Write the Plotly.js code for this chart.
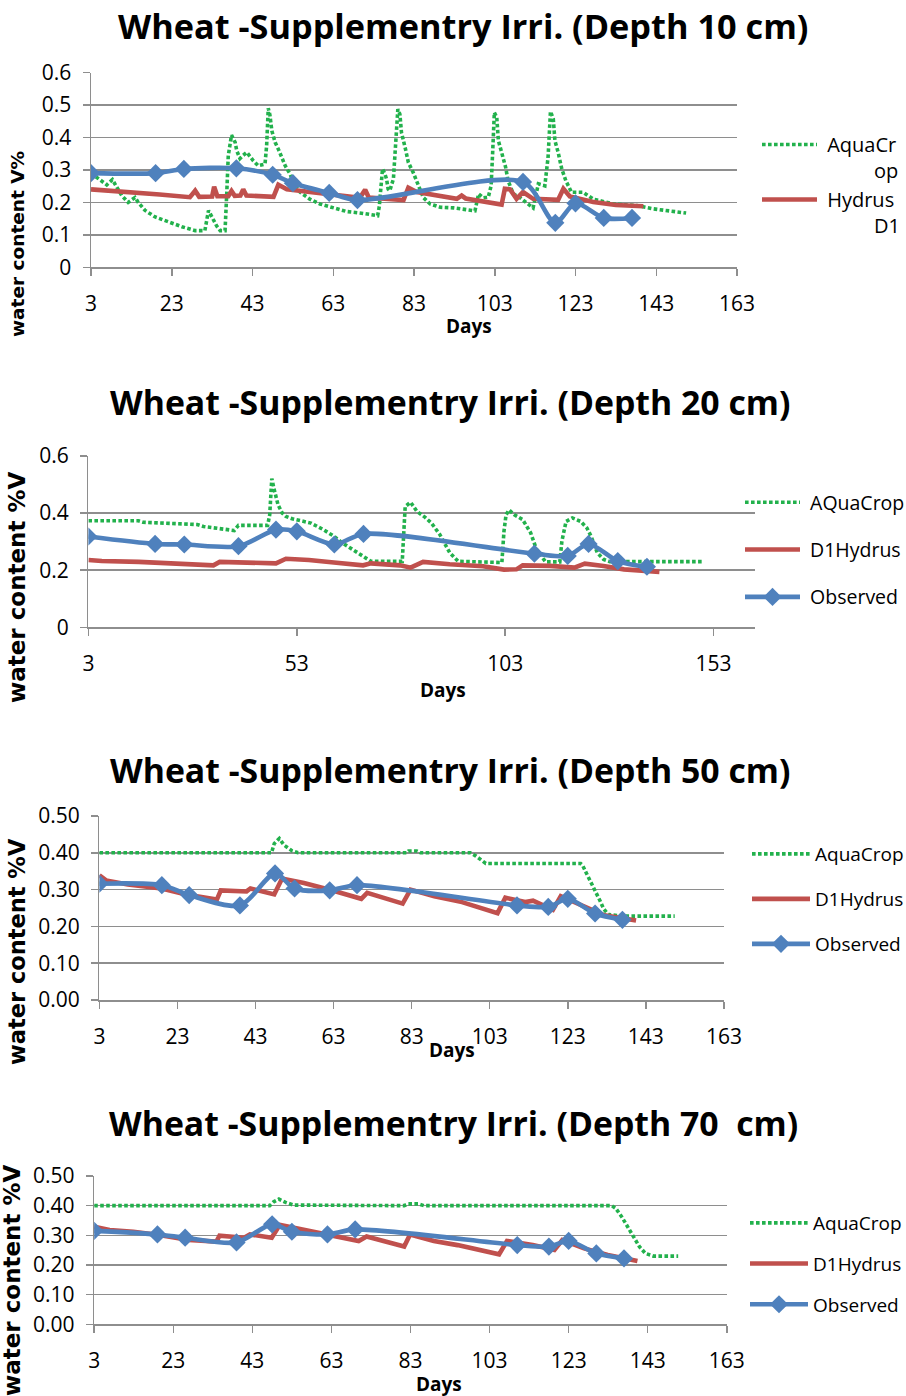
<!DOCTYPE html>
<html>
<head>
<meta charset="utf-8">
<script src="https://cdn.plot.ly/plotly-3.0.1.min.js"></script>
<style>html,body{margin:0;padding:0;background:#fff}#chart{width:906px;height:1396px}</style>
</head>
<body>
<div id="chart"></div>
<script>
// ---------- DATA ----------
const obsDays = [3,19,26,39,48,53,62,69,110,118,123,130,137];
const obs10 = [0.29,0.29,0.303,0.305,0.285,0.259,0.229,0.207,0.263,0.137,0.197,0.152,0.152];
const obs20 = [0.318,0.292,0.290,0.284,0.342,0.336,0.290,0.327,0.258,0.250,0.292,0.232,0.212];
const obs50 = [0.316,0.312,0.285,0.257,0.344,0.303,0.298,0.312,0.257,0.253,0.275,0.235,0.218];
const obs70 = [0.315,0.303,0.292,0.276,0.337,0.312,0.303,0.320,0.267,0.262,0.281,0.239,0.222];

const aqua10Days = [3,4.8,6.9,8.3,10.6,12.2,13.9,14.7,16.4,18.9,22.2,25.5,28.8,31.2,32.1,32.9,34.1,35,36.2,36.6,37,37.8,38.7,39.1,39.9,40.7,41.6,43.2,44.4,46.1,46.5,46.9,47.3,47.8,48.6,49.4,50.2,51.1,52.3,53.3,54.8,57.2,59.7,63,66.3,70.4,74,74.4,74.8,75.2,75.8,76.2,76.6,77,77.9,78.3,78.7,79,79.5,79.9,80.8,81.6,82.8,83.7,85.3,87,89.5,92.8,98.1,99,100.2,101.4,102.1,102.5,102.8,102.9,103.5,103.9,104.7,105.7,106.3,107.6,109.2,110.9,112.5,113.8,115.4,116.2,116.5,116.8,117.5,117.9,118.7,119.6,120.6,122,124.9,127.4,132.4,138.2,142.3,148,150.4];
const aqua10 = [0.29,0.272,0.254,0.27,0.221,0.2,0.215,0.2,0.175,0.155,0.139,0.125,0.113,0.113,0.175,0.155,0.128,0.113,0.113,0.221,0.344,0.407,0.385,0.359,0.335,0.345,0.354,0.328,0.313,0.318,0.375,0.49,0.47,0.42,0.385,0.364,0.338,0.313,0.287,0.257,0.231,0.21,0.195,0.183,0.172,0.166,0.159,0.187,0.244,0.303,0.287,0.272,0.241,0.236,0.272,0.338,0.421,0.487,0.472,0.415,0.369,0.323,0.292,0.262,0.215,0.195,0.185,0.183,0.174,0.226,0.214,0.216,0.251,0.359,0.441,0.477,0.462,0.39,0.354,0.308,0.267,0.226,0.215,0.2,0.183,0.257,0.251,0.338,0.441,0.48,0.457,0.39,0.354,0.303,0.267,0.231,0.231,0.21,0.195,0.19,0.18,0.169,0.167];

const hyd10Days = [3,10,20,27.5,28.8,29.8,33,33.5,34.3,37,37.8,38.6,40,40.7,41.5,48.2,49.4,51.5,62.2,69.6,70.9,71.8,80.4,81.6,83.7,93.6,94.8,95.8,104.7,105.5,106.8,108.4,110,112.5,118.7,120,121.6,127.4,133,139.8];
const hyd10 = [0.240,0.232,0.224,0.216,0.236,0.217,0.218,0.248,0.219,0.219,0.235,0.220,0.221,0.240,0.221,0.217,0.254,0.240,0.226,0.214,0.239,0.215,0.207,0.245,0.232,0.211,0.221,0.212,0.193,0.242,0.240,0.211,0.232,0.211,0.208,0.242,0.218,0.201,0.192,0.188];

const aqua20Days = [3,15,16.1,21.1,22.1,29.1,30.6,36,38,39,46,46.5,47,47.5,48,48.5,49.5,50.4,51.9,54.4,56.4,59.4,61.9,63.9,66.9,69.8,70.8,78.3,78.6,79,80.3,81.8,83.8,85.3,87.3,89.7,91.7,102.2,102.7,103.2,103.9,105.2,107.2,109.1,110.5,112.7,116.1,116.6,117.6,119.1,121.1,122.6,123.6,125.1,126.6,128.1,150.4];
const aqua20 = [0.373,0.373,0.368,0.365,0.362,0.36,0.353,0.342,0.339,0.357,0.357,0.394,0.521,0.487,0.458,0.429,0.40,0.388,0.38,0.373,0.365,0.342,0.319,0.296,0.267,0.238,0.231,0.231,0.302,0.423,0.438,0.406,0.385,0.365,0.325,0.261,0.231,0.227,0.336,0.394,0.411,0.394,0.377,0.331,0.273,0.229,0.229,0.302,0.371,0.383,0.371,0.348,0.319,0.261,0.238,0.23,0.23];

const hyd20Days = [3,6.2,15.1,25.1,33,34.5,42,48,50.4,55.9,61.9,68.9,70.8,77.8,80.3,83.3,89.7,97.7,102.7,105.7,107.2,113.7,119.6,122.1,126.6,131.5,140];
const hyd20 = [0.236,0.232,0.229,0.221,0.217,0.229,0.227,0.224,0.240,0.236,0.227,0.217,0.224,0.217,0.209,0.229,0.221,0.214,0.202,0.203,0.217,0.215,0.209,0.223,0.215,0.203,0.194];

const aqua50Days = [3,47.1,47.8,49.1,50.3,52.4,53.9,81.7,82.2,84.3,85.3,98,99.5,101,102,126.3,126.8,127.8,129.1,130.2,131.2,132.2,133.4,137.5,150.4];
const aqua50 = [0.40,0.40,0.425,0.439,0.421,0.405,0.40,0.40,0.405,0.405,0.40,0.40,0.391,0.378,0.371,0.371,0.366,0.344,0.318,0.294,0.271,0.248,0.232,0.228,0.228];

const hyd50Days = [3,4.7,10.3,18.9,26,33.1,34.1,40.7,41.7,47.8,49.8,55.4,62.5,70.1,71.6,80.7,82.7,88.8,95.9,105,107,112.1,114.1,119.2,121.2,126.3,132.4,140.5];
const hyd50 = [0.339,0.325,0.314,0.303,0.285,0.273,0.298,0.295,0.303,0.287,0.330,0.318,0.298,0.275,0.291,0.262,0.300,0.282,0.266,0.236,0.278,0.266,0.270,0.245,0.282,0.257,0.230,0.216];

const aqua70Days = [3,47.4,48.4,49.7,51.4,53.4,81.4,82.4,84.9,86.4,133.9,134.9,136.4,137.9,139.4,140.9,142.4,144.4,150.7];
const aqua70 = [0.40,0.40,0.413,0.422,0.411,0.402,0.40,0.406,0.406,0.40,0.40,0.391,0.363,0.329,0.296,0.262,0.239,0.23,0.23];

const hyd70Days = [3,6.9,12.9,19.4,26.9,33.9,34.7,40.9,42.4,47.9,49.9,55.9,62.9,69.9,71.9,81.4,82.9,88.9,94.9,105.4,107.4,113.9,119.4,121.4,126.9,132.9,140.4];
const hyd70 = [0.329,0.318,0.312,0.301,0.284,0.279,0.299,0.292,0.303,0.292,0.335,0.318,0.301,0.281,0.296,0.262,0.303,0.281,0.267,0.236,0.281,0.267,0.251,0.284,0.256,0.234,0.213];

const titles = ["Wheat -Supplementry Irri. (Depth 10 cm)","Wheat -Supplementry Irri. (Depth 20 cm)","Wheat -Supplementry Irri. (Depth 50 cm)","Wheat -Supplementry Irri. (Depth 70\u00a0 cm)"];
const yTitles = ["water content V%","water content %V","water content %V","water content %V"];
const xTitle = "Days";
const NB = n => '\u00a0'.repeat(n);
const legendNames = [
  [NB(1) + "AquaCr<br>" + NB(10) + "op", NB(1) + "Hydrus<br>" + NB(10) + "D1"],
  [NB(1) + "AQuaCrop", NB(1) + "D1Hydrus", NB(1) + "Observed"],
  ["AquaCrop", "D1Hydrus", "Observed"],
  ["AquaCrop", "D1Hydrus", "Observed"]
];

// ---------- STYLE ----------
const W = 906, H = 1396;
const GREEN = '#22b14c', RED = '#c0504d', BLUE = '#4f81bd', GRID = '#8e8e8e';
const FONT = 'Open Sans, DejaVu Sans, sans-serif';
const px = x => x / W, py = y => 1 - y / H;

// plot boxes in pixels: [xLeft(day3), xRight(day163), yTop, yBottom]
const boxes = [
  [91, 737, 72.5, 267.3],
  [88.4, 755.3, 456, 627.3],
  [99.4, 723.9, 816, 1000],
  [94.2, 726.8, 1176, 1324.3]
];
const yRanges = [[0,0.6],[0,0.6],[0,0.5],[0,0.5]];
const yDticks = [0.1,0.2,0.1,0.1];
const yFormats = ['', '', '.2f', '.2f'];
const xDticks = [20,50,20,20];

const traces = [];
function addSet(i, aDays, aVals, hDays, hVals, oVals) {
  const sfx = i === 0 ? '' : String(i + 1);
  const lg = 'legend' + (i === 0 ? '' : String(i + 1));
  const names = legendNames[i];
  traces.push({x: aDays, y: aVals, xaxis: 'x' + sfx, yaxis: 'y' + sfx, mode: 'lines', name: names[0], legend: lg, legendgroup: 'a' + i,
    line: {color: GREEN, width: 3.6, dash: '3.6px,2.4px'}, hoverinfo: 'skip'});
  traces.push({x: hDays, y: hVals, xaxis: 'x' + sfx, yaxis: 'y' + sfx, mode: 'lines', name: names[1], legend: lg, legendgroup: 'h' + i,
    line: {color: RED, width: 4.6}, hoverinfo: 'skip'});
  traces.push({x: obsDays, y: oVals, xaxis: 'x' + sfx, yaxis: 'y' + sfx, mode: 'lines+markers', name: names[2] || 'Observed', legend: lg, legendgroup: 'o' + i,
    showlegend: i !== 0,
    line: {color: BLUE, width: 4.6, shape: 'spline', smoothing: 0.8}, marker: {symbol: 'diamond', size: 14, color: BLUE}, hoverinfo: 'skip'});
}
addSet(0, aqua10Days, aqua10, hyd10Days, hyd10, obs10);
addSet(1, aqua20Days, aqua20, hyd20Days, hyd20, obs20);
addSet(2, aqua50Days, aqua50, hyd50Days, hyd50, obs50);
addSet(3, aqua70Days, aqua70, hyd70Days, hyd70, obs70);

const layout = {
  width: W, height: H, margin: {l: 0, r: 0, t: 0, b: 0, autoexpand: false},
  paper_bgcolor: '#fff', plot_bgcolor: '#fff',
  font: {family: FONT, color: '#000', size: 20},
  annotations: [], showlegend: true
};
boxes.forEach((b, i) => {
  const sfx = i === 0 ? '' : String(i + 1);
  layout['xaxis' + sfx] = {
    domain: [px(b[0]), px(b[1])], anchor: 'y' + sfx, range: [3, 163],
    tick0: 3, dtick: xDticks[i], showgrid: false, zeroline: false,
    showline: true, linecolor: GRID, linewidth: 1.5,
    ticks: 'outside', ticklen: 7, tickcolor: GRID, tickwidth: 1.5,
    ticklabelstandoff: 10, tickfont: {family: FONT, size: 21, color: '#000'}, fixedrange: true, automargin: false
  };
  layout['yaxis' + sfx] = {
    domain: [py(b[3]), py(b[2])], anchor: 'x' + sfx, range: yRanges[i],
    dtick: yDticks[i], tick0: 0, tickformat: yFormats[i],
    showgrid: true, gridcolor: GRID, gridwidth: 1.5, zeroline: false,
    showline: true, linecolor: GRID, linewidth: 1.5,
    ticks: 'outside', ticklen: 7, tickcolor: GRID, tickwidth: 1.5,
    ticklabelstandoff: 7, tickfont: {family: FONT, size: 21, color: '#000'}, fixedrange: true, automargin: false
  };
});

// titles
const titlePos = [[463, 25], [450, 402], [450, 770], [453, 1123]];
titlePos.forEach((p, i) => layout.annotations.push({
  text: '<b>' + titles[i] + '</b>', xref: 'paper', yref: 'paper', x: px(p[0]), y: py(p[1]),
  xanchor: 'center', yanchor: 'middle', showarrow: false, font: {family: FONT, size: i === 0 ? 34.3 : 33.8, color: '#000'}
}));
// x titles
const xtPos = [[469, 326], [443, 690], [452, 1050], [439, 1384]];
xtPos.forEach((p, i) => layout.annotations.push({
  text: '<b>' + xTitle + '</b>', xref: 'paper', yref: 'paper', x: px(p[0]), y: py(p[1]),
  xanchor: 'center', yanchor: 'middle', showarrow: false, font: {family: FONT, size: 19, color: '#000'}
}));
// y titles
const ytPos = [[18, 244, 18.5], [17, 587, 23], [17, 952, 22.5], [12, 1280, 23]];
ytPos.forEach((p, i) => layout.annotations.push({
  text: '<b>' + yTitles[i] + '</b>', xref: 'paper', yref: 'paper', x: px(p[0]), y: py(p[1]),
  xanchor: 'center', yanchor: 'middle', textangle: -90, showarrow: false, font: {family: 'DejaVu Sans, sans-serif', size: p[2], color: '#000'}
}));

// legends: [x, yTop, gap, itemwidth, fontsize]
const legPos = [[757, 125, 0, 55, 20], [740, 483, 19, 55, 19.5], [747, 835, 17.3, 58, 19], [745, 1204, 13, 58, 19]];
legPos.forEach((p, i) => {
  const key = 'legend' + (i === 0 ? '' : String(i + 1));
  layout[key] = {
    x: px(p[0]), y: py(p[1]), xanchor: 'left', yanchor: 'top', xref: 'paper', yref: 'paper',
    bgcolor: 'rgba(0,0,0,0)', borderwidth: 0, itemwidth: p[3], traceorder: 'grouped',
    tracegroupgap: p[2], valign: 'top', font: {family: FONT, size: p[4], color: '#000'}
  };
});

Plotly.newPlot('chart', traces, layout, {staticPlot: true, displayModeBar: false});
</script>
</body>
</html>
